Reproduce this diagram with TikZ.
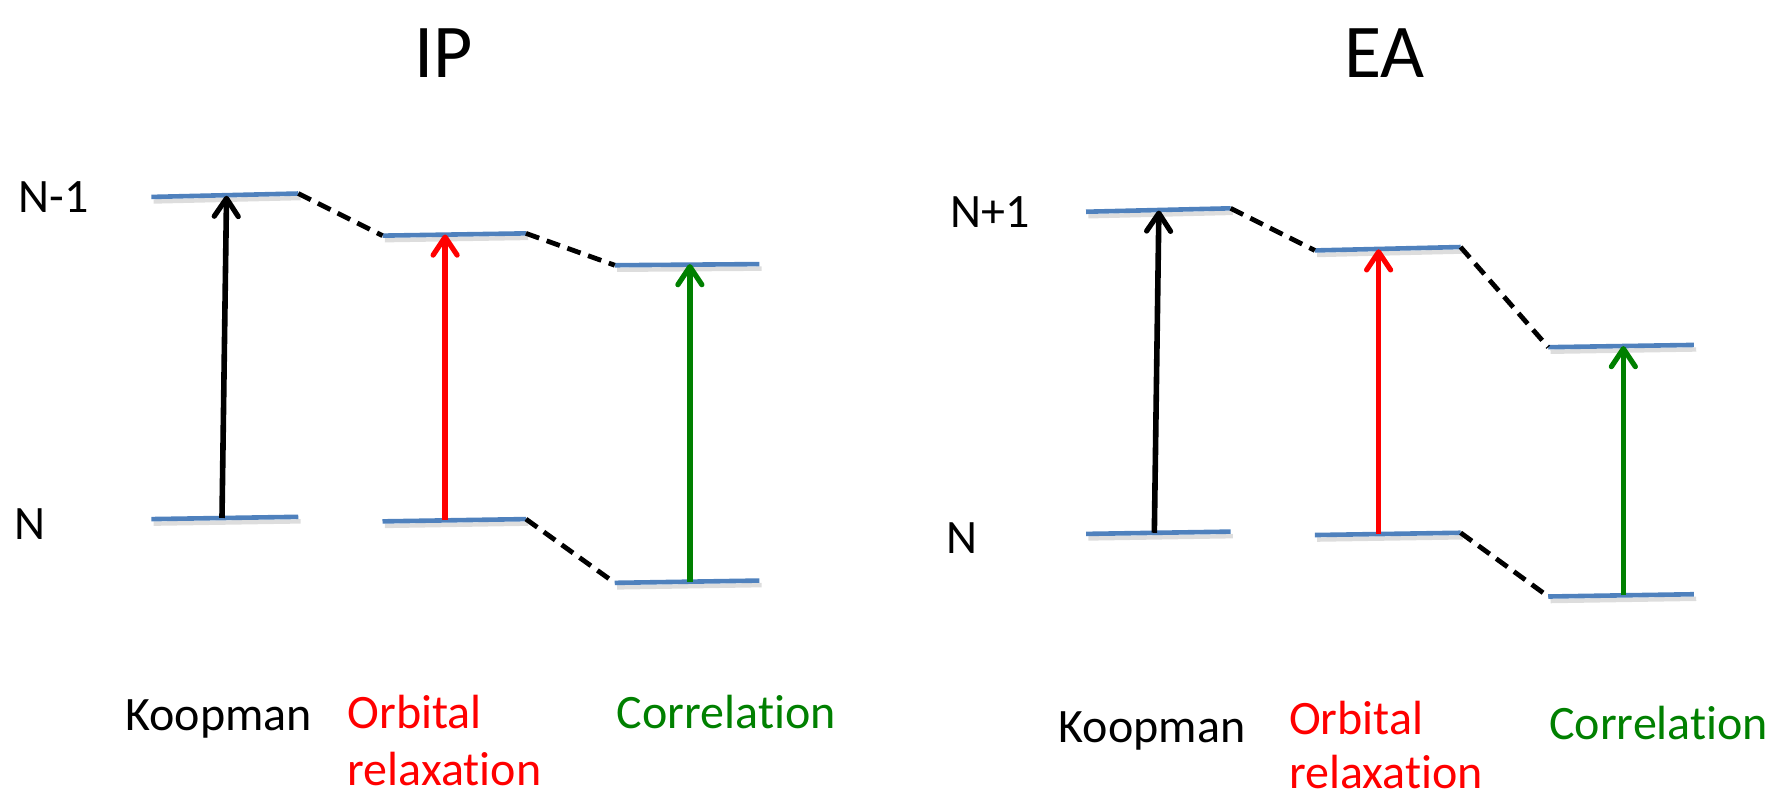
\documentclass[tikz,border=0pt]{standalone}
\usepackage{fontspec}
\setmainfont[Ligatures=NoCommon]{Carlito}
\usetikzlibrary{arrows.meta}
\definecolor{lvl}{HTML}{4F81BD}
\definecolor{gr}{HTML}{008000}
\definecolor{rd}{HTML}{FF0000}
\tikzset{
  level/.style={draw=lvl, line width=2.3pt, line cap=butt},
  shad/.style={draw=black!22, line width=2.2pt, opacity=0.6},
  link/.style={draw=black, line width=2.4pt, dash pattern=on 7pt off 4pt},
  trans/.style={line width=2.8pt, -{Straight Barb[length=9pt,width=12pt,line width=2.6pt,round]}},
  lab/.style={font=\fontsize{24}{28}\selectfont, anchor=base, inner sep=0pt},
  ttl/.style={font=\fontsize{38}{44}\selectfont, anchor=base, inner sep=0pt},
}
\begin{document}
\begin{tikzpicture}[x={(0.02cm,0)}, y={(0,-0.02cm)}]
\useasboundingbox (0,0) rectangle (1568,705);
% titles
\node[ttl] (tip) at (390,68) {IP};
\node[ttl] (tea) at (1216,68) {EA};
% state labels
\node[lab, anchor=base west] (nm1) at (16,187) {N-1};
\node[lab, anchor=base west] (n1) at (12,474) {N};
\node[lab, anchor=base west] (np1) at (835,200) {N+1};
\node[lab, anchor=base west] (n2) at (831,486) {N};
% ---------- IP ----------
\coordinate (ak1) at (133,173); \coordinate (bk1) at (262,170);
\coordinate (ck1) at (133,456); \coordinate (dk1) at (262,454);
\coordinate (ao1) at (336,207); \coordinate (bo1) at (462,205);
\coordinate (co1) at (336,458); \coordinate (do1) at (462,456);
\coordinate (ac1) at (540,233); \coordinate (bc1) at (667,232);
\coordinate (cc1) at (540,512); \coordinate (dc1) at (667,510);
% ---------- EA ----------
\coordinate (ak2) at (954,186); \coordinate (bk2) at (1081,183);
\coordinate (ck2) at (954,469); \coordinate (dk2) at (1081,467);
\coordinate (ao2) at (1155,220); \coordinate (bo2) at (1283,217);
\coordinate (co2) at (1155,470); \coordinate (do2) at (1283,468);
\coordinate (ac2) at (1360,305); \coordinate (bc2) at (1488,303);
\coordinate (cc2) at (1360,524); \coordinate (dc2) at (1488,522);
% shadows
\foreach \p/\q in {ak1/bk1,ck1/dk1,ao1/bo1,co1/do1,ac1/bc1,cc1/dc1,ak2/bk2,ck2/dk2,ao2/bo2,co2/do2,ac2/bc2,cc2/dc2}
  \draw[shad] ([shift={(2,4)}]\p) -- ([shift={(2,4)}]\q);
% levels
\foreach \p/\q in {ak1/bk1,ck1/dk1,ao1/bo1,co1/do1,ac1/bc1,cc1/dc1,ak2/bk2,ck2/dk2,ao2/bo2,co2/do2,ac2/bc2,cc2/dc2}
  \draw[level] (\p) -- (\q);
% dashed links
\draw[link] (bk1) -- (ao1);
\draw[link] (bo1) -- (ac1);
\draw[link] (do1) -- (cc1);
\draw[link] (bk2) -- (ao2);
\draw[link] (bo2) -- (ac2);
\draw[link] (do2) -- (cc2);
% transition arrows IP
\coordinate (k1s) at (195,455); \coordinate (k1e) at (199,172);
\coordinate (o1s) at (391,457); \coordinate (o1e) at (391,206);
\coordinate (c1s) at (606,511); \coordinate (c1e) at (606,232);
\draw[trans, black] (k1s) -- (k1e);
\draw[trans, rd] (o1s) -- (o1e);
\draw[trans, gr] (c1s) -- (c1e);
% transition arrows EA
\coordinate (k2s) at (1014,468); \coordinate (k2e) at (1018,185);
\coordinate (o2s) at (1211,469); \coordinate (o2e) at (1211,219);
\coordinate (c2s) at (1426,523); \coordinate (c2e) at (1426,304);
\draw[trans, black] (k2s) -- (k2e);
\draw[trans, rd] (o2s) -- (o2e);
\draw[trans, gr] (c2s) -- (c2e);
% bottom labels IP
\node[lab] (kp1) at (192,642) {Koopman};
\node[lab, anchor=base west, text=rd] (or1) at (305,640) {Orbital};
\node[lab, anchor=base west, text=rd] (rx1) at (305,690) {relaxation};
\node[lab, text=gr] (co1l) at (638,640) {Correlation};
% bottom labels EA
\node[lab] (kp2) at (1012,652) {Koopman};
\node[lab, anchor=base west, text=rd] (or2) at (1132,645) {Orbital};
\node[lab, anchor=base west, text=rd] (rx2) at (1132,693) {relaxation};
\node[lab, text=gr] (co2l) at (1457,650) {Correlation};
\end{tikzpicture}
\end{document}
